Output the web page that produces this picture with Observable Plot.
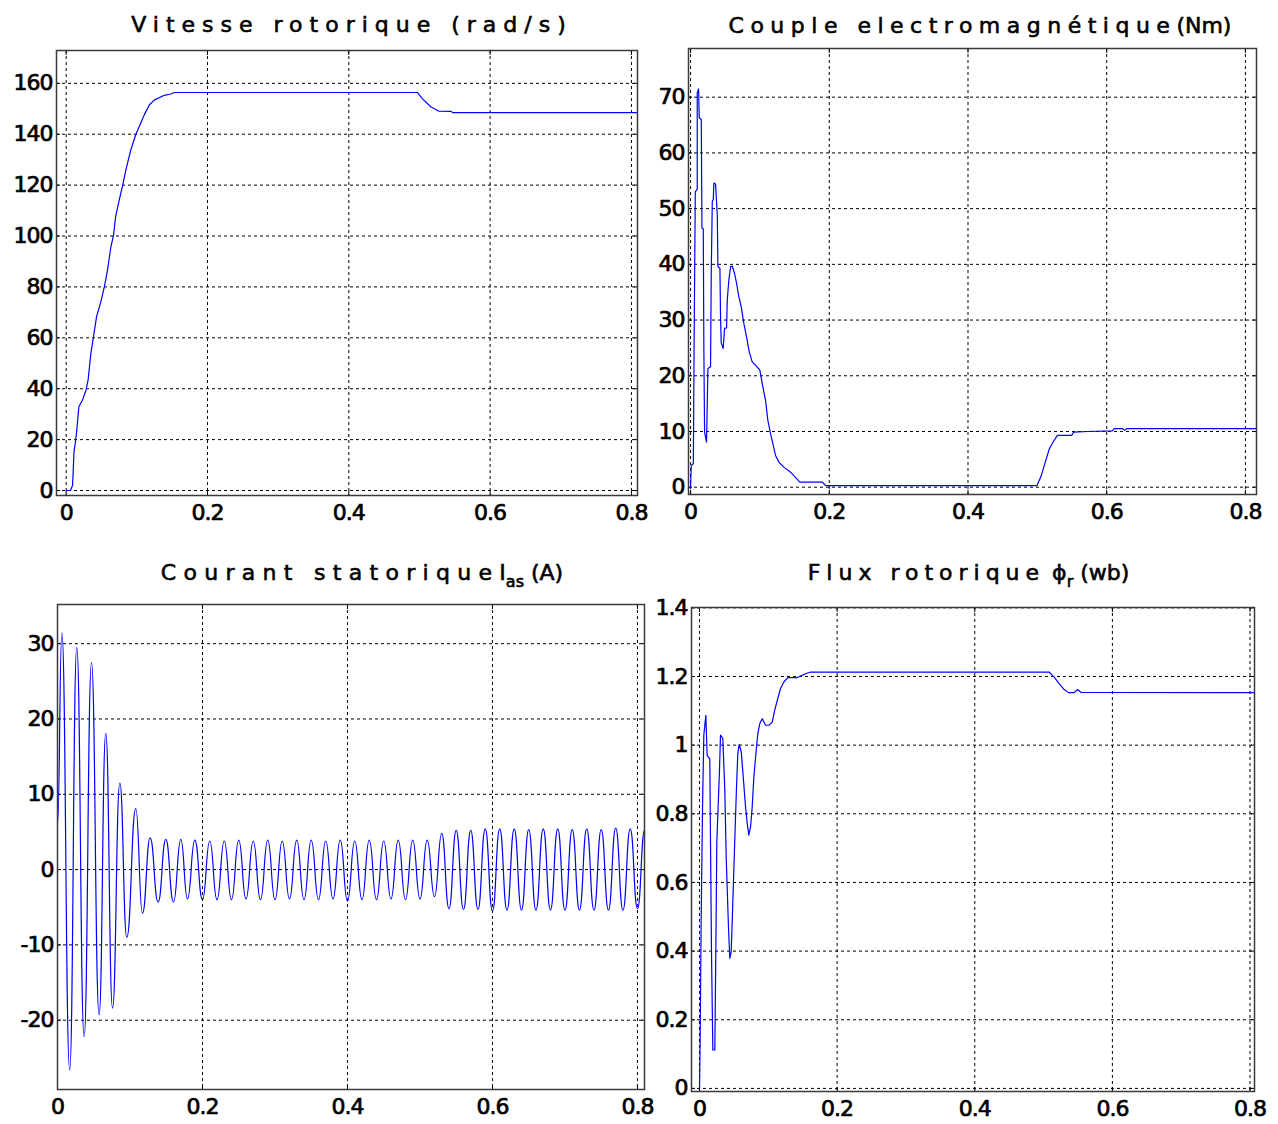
<!DOCTYPE html>
<html><head><meta charset="utf-8">
<script src="https://cdn.jsdelivr.net/npm/d3@7"></script>
<script src="https://cdn.jsdelivr.net/npm/@observablehq/plot@0.6"></script>
<style>
body{margin:0;background:#fff;}
#page{position:relative;width:1278px;height:1124px;overflow:hidden;background:#fff;font-family:"DejaVu Sans",sans-serif;}
.panel{position:absolute;}
.panel svg{overflow:visible;max-width:none;}
.title{position:absolute;white-space:nowrap;font-size:22px;line-height:22px;color:#000;text-align:center;width:700px;-webkit-text-stroke:0.6px #000;}
sub{font-size:16px;vertical-align:-7px;line-height:0;}
</style></head><body><div id="page"></div>
<script>
// ---------- data ----------
const xTicks = [0, 0.2, 0.4, 0.6, 0.8];
const speedTicks = [0, 20, 40, 60, 80, 100, 120, 140, 160];
const torqueTicks = [0, 10, 20, 30, 40, 50, 60, 70];
const currentTicks = [-20, -10, 0, 10, 20, 30];
const fluxTicks = [0, 0.2, 0.4, 0.6, 0.8, 1, 1.2, 1.4];

// Vitesse rotorique (rad/s)
const speedT = [0, 0.006, 0.009, 0.010, 0.011, 0.0135, 0.015, 0.018, 0.023, 0.028,
  0.031, 0.035, 0.0386, 0.043, 0.049, 0.054, 0.0585, 0.063, 0.067, 0.070,
  0.075, 0.080, 0.0845, 0.0916, 0.0987, 0.1034, 0.1105, 0.1176, 0.125, 0.139,
  0.148, 0.153, 0.497, 0.504, 0.516, 0.527, 0.545, 0.547, 0.81];
const speedW = [0, 0, 2, 8, 15, 20, 23.7, 33, 35.5, 39.4,
  43.4, 54, 60.4, 68.3, 74, 80, 86.6, 95.3, 100.4, 107.6,
  114, 120, 126, 134, 140, 143, 147.6, 151.5, 153.5, 155.3,
  155.8, 156.4, 156.4, 154, 150.8, 149.1, 149, 148.5, 148.5];

// Couple electromagnetique (Nm)
const torqueT = [0, 0.001, 0.004, 0.005, 0.0068, 0.0096, 0.0096, 0.0115, 0.0125, 0.0154,
  0.0164, 0.0183, 0.0192, 0.0202, 0.023, 0.025, 0.0288, 0.0298, 0.0313, 0.0327,
  0.0336, 0.036, 0.0385, 0.0394, 0.0423, 0.0432, 0.0442, 0.047, 0.049, 0.0519,
  0.0529, 0.0552, 0.0577, 0.06, 0.0634, 0.0663, 0.0696, 0.073, 0.0768, 0.0807,
  0.0846, 0.0889, 0.0937, 0.0999, 0.1033, 0.1081, 0.1114, 0.1153, 0.1192, 0.1225,
  0.1273, 0.1345, 0.1441, 0.1576, 0.19, 0.1946, 0.4995, 0.5055, 0.5114, 0.5173,
  0.5232, 0.529, 0.5495, 0.5525, 0.573, 0.608, 0.611, 0.623, 0.626, 0.629,
  0.816];
const torqueV = [0, 3.9, 4.2, 24.3, 53, 53.5, 70.8, 71.5, 66.3, 66,
  46.5, 46.4, 24, 9.9, 8.1, 21.3, 21.6, 38.4, 51.3, 51.6,
  54.6, 54.4, 48.9, 39.6, 39.3, 30.6, 25.9, 24.9, 28.5, 28.6,
  33.6, 37.2, 39.6, 39.7, 38.4, 36.6, 34.2, 32.4, 29.4, 27,
  24.3, 22.5, 21.9, 21, 18.6, 15.6, 12, 9.6, 7.5, 5.7,
  4.5, 3.6, 2.7, 0.9, 0.9, 0.3, 0.3, 2.0, 4.5, 6.9,
  8.2, 9.3, 9.3, 9.9, 10, 10.1, 10.5, 10.5, 10.2, 10.5,
  10.5];

// Courant statorique Ias (A): successive extremes of the oscillation
const currentT = [0, 0.006, 0.0168, 0.0266, 0.0367, 0.0469, 0.0574, 0.0666, 0.0759, 0.086,
  0.0956, 0.108, 0.1172, 0.1278, 0.1388, 0.1494, 0.16, 0.1701, 0.1793, 0.1894,
  0.2, 0.21, 0.22, 0.23, 0.24, 0.25, 0.26, 0.27, 0.28, 0.29,
  0.3, 0.31, 0.32, 0.33, 0.34, 0.35, 0.36, 0.37, 0.38, 0.39,
  0.4, 0.41, 0.42, 0.43, 0.44, 0.45, 0.46, 0.47, 0.48, 0.49,
  0.5, 0.51, 0.52, 0.53, 0.54, 0.55, 0.56, 0.57, 0.58, 0.59,
  0.6, 0.61, 0.62, 0.63, 0.64, 0.65, 0.66, 0.67, 0.68, 0.69,
  0.7, 0.71, 0.72, 0.73, 0.74, 0.75, 0.76, 0.77, 0.78, 0.79,
  0.8, 0.81];
const currentV = [6, 31.4, -26.6, 29.5, -22.2, 27.5, -19.3, 18.1, -18.4, 11.5,
  -9.0, 8.1, -5.8, 4.2, -4.3, 4.0, -4.3, 4.0, -3.9, 3.9,
  -4.0, 3.8, -4.0, 3.8, -4.0, 3.9, -3.9, 3.8, -4.0, 3.9,
  -4.0, 3.8, -3.9, 3.9, -4.0, 3.9, -4.0, 3.8, -3.9, 3.9,
  -4.2, 3.8, -4.0, 3.9, -4.0, 3.8, -3.9, 3.9, -4.0, 3.9,
  -3.9, 3.9, -3.6, 4.8, -5.2, 5.2, -5.3, 5.2, -5.3, 5.4,
  -5.5, 5.4, -5.4, 5.4, -5.4, 5.3, -5.4, 5.4, -5.4, 5.4,
  -5.4, 5.3, -5.4, 5.4, -5.4, 5.3, -5.4, 5.5, -5.4, 5.4,
  -5.2, 5.3];

// Flux rotorique phi_r (wb)
const fluxT = [0, 0.0001, 0.001, 0.0024, 0.0044, 0.0063, 0.0092, 0.0112, 0.015, 0.016,
  0.0175, 0.0194, 0.0223, 0.0238, 0.0252, 0.0291, 0.0305, 0.0339, 0.0368, 0.0388,
  0.0422, 0.0441, 0.0461, 0.048, 0.0509, 0.0538, 0.0557, 0.0577, 0.0607, 0.0636,
  0.0669, 0.0694, 0.0717, 0.0742, 0.0766, 0.079, 0.0829, 0.0848, 0.0877, 0.0912,
  0.096, 0.1008, 0.1057, 0.1091, 0.113, 0.1178, 0.1226, 0.1284, 0.1421, 0.1542,
  0.1615, 0.508, 0.5154, 0.5227, 0.53, 0.5363, 0.5445, 0.5494, 0.5542, 0.8065];
const fluxV = [0, 0, 0.141, 0.485, 0.815, 1.029, 1.087, 0.97, 0.96, 0.723,
  0.389, 0.112, 0.112, 0.408, 0.718, 0.927, 1.029, 1.02, 0.869, 0.675,
  0.466, 0.379, 0.398, 0.515, 0.699, 0.878, 0.976, 1.002, 0.98, 0.907,
  0.82, 0.772, 0.738, 0.762, 0.82, 0.907, 0.995, 1.034, 1.063, 1.077,
  1.058, 1.058, 1.067, 1.1, 1.13, 1.165, 1.184, 1.197, 1.197, 1.208,
  1.213, 1.213, 1.198, 1.179, 1.162, 1.153, 1.153, 1.162, 1.154, 1.153];

// ---------- drawing ----------
const page = document.getElementById("page");
const fmt = d => String(d);

function makePanel(cfg) {
  const data = d3.zip(cfg.t, cfg.v).map(([t, v]) => ({t, v}));
  const grid = {stroke: "#000", strokeOpacity: 1, strokeWidth: 1, strokeDasharray: "3,3"};
  const inner = {tickSize: 4, inset: 4, fill: "none", label: null, stroke: "#000"};
  const textStyle = {textStroke: "#000", textStrokeWidth: 0.7, label: null};
  const chart = Plot.plot({
    width: cfg.width, height: cfg.height,
    marginLeft: cfg.ml, marginRight: cfg.mr, marginTop: cfg.mt, marginBottom: cfg.mb,
    x: {domain: cfg.xDomain},
    y: {domain: cfg.yDomain},
    style: {fontFamily: "DejaVu Sans, sans-serif", fontSize: "22px", color: "#000",
            background: "transparent", letterSpacing: "-1px", overflow: "visible"},
    marks: [
      Plot.gridX(xTicks, grid),
      Plot.gridY(cfg.yTicks, grid),
      Plot.axisX(xTicks, {anchor: "bottom", ...inner}),
      Plot.axisX(xTicks, {anchor: "top", ...inner}),
      Plot.axisY(cfg.yTicks, {anchor: "left", ...inner}),
      Plot.axisY(cfg.yTicks, {anchor: "right", ...inner}),
      Plot.axisX(xTicks, {anchor: "bottom", tickSize: 0, tickPadding: 9, tickFormat: fmt, ...textStyle}),
      Plot.axisY(cfg.yTicks, {anchor: "left", tickSize: 0, tickPadding: 4, tickFormat: fmt, ...textStyle}),
      Plot.line(data, {x: "t", y: "v", stroke: "#0000ff", strokeWidth: 1.2, curve: cfg.curve || "linear", clip: true}),
      Plot.frame({stroke: "#3a3a3a", strokeWidth: 1.5})
    ]
  });
  const div = document.createElement("div");
  div.className = "panel";
  div.style.left = cfg.left + "px";
  div.style.top = cfg.top + "px";
  div.style.width = cfg.width + "px";
  div.style.height = cfg.height + "px";
  div.appendChild(chart);
  page.appendChild(div);

  const title = document.createElement("div");
  title.className = "title";
  title.style.left = (cfg.titleCenter - 350) + "px";
  title.style.top = cfg.titleTop + "px";
  title.innerHTML = cfg.titleHTML;
  page.appendChild(title);
}

makePanel({
  left: 0, top: 0, width: 650, height: 540, ml: 56, mr: 13, mt: 50, mb: 45,
  xDomain: [-0.0137, 0.8086], yDomain: [-1.96, 172.9], yTicks: speedTicks,
  t: speedT, v: speedW, titleCenter: 348.5, titleTop: 14.4,
  titleHTML: '<span style="letter-spacing:7px;padding-left:7px">Vitesse rotorique (rad/s)</span>'
});
makePanel({
  left: 645, top: 0, width: 633, height: 540, ml: 43, mr: 22, mt: 48, mb: 46,
  xDomain: [-0.003, 0.816], yDomain: [-1.31, 78.74], yTicks: torqueTicks,
  t: torqueT, v: torqueV, titleCenter: 980, titleTop: 15,
  titleHTML: '<span style="letter-spacing:6.5px">Couple electromagnétique</span>(Nm)'
});
makePanel({
  left: 0, top: 550, width: 650, height: 574, ml: 57, mr: 6, mt: 54, mb: 35,
  xDomain: [0, 0.8097], yDomain: [-29.2, 35.2], yTicks: currentTicks,
  t: currentT, v: currentV, curve: "bump-x", titleCenter: 362, titleTop: 562.4,
  titleHTML: '<span style="letter-spacing:7.3px">Courant statorique</span>I<sub>as</sub> (A)'
});
makePanel({
  left: 645, top: 550, width: 633, height: 574, ml: 46, mr: 24, mt: 57, mb: 33,
  xDomain: [-0.0116, 0.8065], yDomain: [-0.009, 1.401], yTicks: fluxTicks,
  t: fluxT, v: fluxV, titleCenter: 968.5, titleTop: 562.4,
  titleHTML: '<span style="letter-spacing:6px">Flux rotorique</span> ϕ<sub>r</sub> (wb)'
});
</script></body></html>
